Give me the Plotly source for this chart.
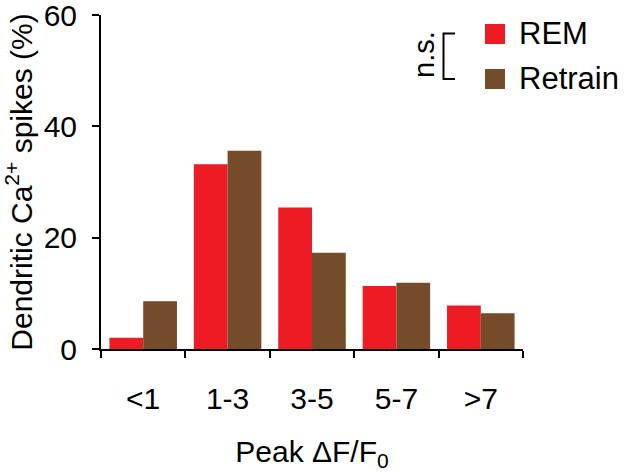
import plotly.graph_objects as go

categories = ["<1", "1-3", "3-5", "5-7", ">7"]
rem_values = [2.0, 33.2, 25.4, 11.3, 7.8]
retrain_values = [8.6, 35.6, 17.3, 11.9, 6.4]
series_names = ["REM", "Retrain"]
series_colors = ["#ED1C24", "#754C29"]
y_ticks = [0, 20, 40, 60]

FONT = "Arial, Liberation Sans, sans-serif"
W, H = 624, 472
L, R, T, B = 101, 101, 15, 123
pw, ph = W - L - R, H - T - B


def px(x):
    return (x - L) / pw


def py(y):
    return (H - B - y) / ph


fig = go.Figure()
for name, vals, col in zip(series_names, [rem_values, retrain_values], series_colors):
    fig.add_trace(go.Bar(x=categories, y=vals, name=name, marker=dict(color=col, line=dict(width=0)),
                         showlegend=False, cliponaxis=False))

fig.update_layout(
    width=W, height=H,
    margin=dict(l=L, r=R, t=T, b=B, pad=0, autoexpand=False),
    paper_bgcolor="white", plot_bgcolor="white",
    barmode="group", bargap=0.2, bargroupgap=0,
    font=dict(family=FONT, color="black"),
    xaxis=dict(
        type="category", range=[-0.5, 4.5], automargin=False,
        showline=True, linecolor="black", linewidth=2,
        ticks="outside", ticklen=7, tickwidth=2, tickcolor="black", tickson="boundaries",
        tickfont=dict(size=30), ticklabelstandoff=22,
        showgrid=False, zeroline=False,
        title=dict(text="Peak \u0394F/F<sub>0</sub>", font=dict(size=30), standoff=28),
    ),
    yaxis=dict(
        range=[0, 60], tickvals=y_ticks, automargin=False,
        showline=True, linecolor="black", linewidth=2,
        ticks="outside", ticklen=7, tickwidth=2, tickcolor="black",
        tickfont=dict(size=30), ticklabelstandoff=9, ticklabeloverflow="allow",
        showgrid=False, zeroline=False,
        title=dict(text="Dendritic Ca<sup>2+</sup> spikes (%)", font=dict(size=30), standoff=10),
    ),
)

# legend drawn manually (larger squares than the default legend)
rows_y = [34, 79]
for name, col, yc in zip(series_names, series_colors, rows_y):
    fig.add_shape(type="rect", xref="paper", yref="paper",
                  x0=px(485), x1=px(505), y0=py(yc - 10), y1=py(yc + 10),
                  fillcolor=col, line=dict(width=0))
    fig.add_annotation(xref="paper", yref="paper", x=px(517), y=py(yc),
                       text=name, showarrow=False, xanchor="left", yanchor="middle",
                       width=100, align="left",
                       font=dict(size=31, family=FONT, color="black"))

# n.s. bracket
fig.add_shape(type="path", xref="paper", yref="paper",
              path=f"M {px(455)},{py(33.5)} L {px(443.5)},{py(33.5)} L {px(443.5)},{py(79)} L {px(455)},{py(79)}",
              line=dict(color="black", width=2))
fig.add_annotation(xref="paper", yref="paper", x=px(424), y=py(55), text="n.s.",
                   textangle=-90, showarrow=False, xanchor="center", yanchor="middle",
                   font=dict(size=29, family=FONT, color="black"))

fig.write_html("out.html", config={"displayModeBar": False},
               post_script="document.body.style.margin='0';document.body.style.overflow='hidden';")
